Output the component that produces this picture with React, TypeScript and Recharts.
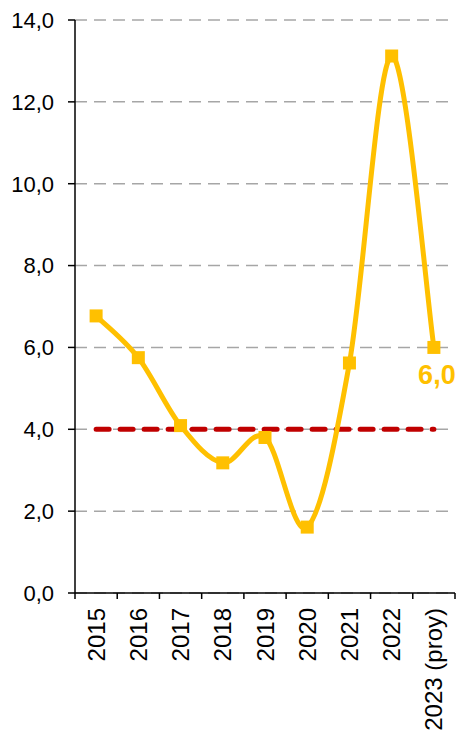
import { LineChart, Line, XAxis, YAxis, CartesianGrid, LabelList } from "recharts"

const years = ['2015', '2016', '2017', '2018', '2019', '2020', '2021', '2022', '2023 (proy)']
const inflation = [6.77, 5.75, 4.09, 3.18, 3.8, 1.61, 5.62, 13.12, 6.0]
const target = [4, 4, 4, 4, 4, 4, 4, 4, 4]
const yTicks = [0, 2, 4, 6, 8, 10, 12, 14]
const xBounds = [0, 1, 2, 3, 4, 5, 6, 7, 8, 9]

const data = years.map((year, i) => ({ x: i + 0.5, year, value: inflation[i], target: target[i] }))

const W = 460
const H = 731
const LEFT = 75
const RIGHT = 5
const FONT = '"Liberation Sans", Arial, sans-serif'
const halfBand = (W - LEFT - RIGHT) / years.length / 2

const fmt = (v: number) => v.toFixed(1).replace('.', ',')

// smoothing similar to the spreadsheet "smoothed line"
function smoothCurve(context: any) {
  let pts: number[][] = []
  return {
    areaStart() {},
    areaEnd() {},
    lineStart() { pts = [] },
    point(x: number, y: number) { pts.push([+x, +y]) },
    lineEnd() {
      const n = pts.length
      if (!n) return
      context.moveTo(pts[0][0], pts[0][1])
      const t = 1 / 6
      for (let i = 0; i < n - 1; i++) {
        const p0 = pts[i - 1] || pts[i]
        const p1 = pts[i]
        const p2 = pts[i + 1]
        const p3 = pts[i + 2] || p2
        context.bezierCurveTo(
          p1[0] + (p2[0] - p0[0]) * t, p1[1] + (p2[1] - p0[1]) * t,
          p2[0] - (p3[0] - p1[0]) * t, p2[1] - (p3[1] - p1[1]) * t,
          p2[0], p2[1]
        )
      }
    },
  }
}

const YearTick = (props: any) => {
  const { x, y, payload } = props
  const idx = payload.value
  if (idx >= years.length) return null
  const cx = x + halfBand + 8.5
  const cy = y + 7
  return (
    <text x={cx} y={cy} textAnchor="end" transform={`rotate(-90, ${cx}, ${cy})`}
      fontSize={24} fontFamily={FONT} fill="#000">
      {years[idx]}
    </text>
  )
}

const SquareDot = (props: any) => {
  const { cx, cy, index } = props
  if (cx == null || cy == null) return <g key={index} />
  return <rect key={index} x={cx - 6.5} y={cy - 6.5} width={13} height={13} fill="#FFC000" />
}

const LastLabel = (props: any) => {
  const { x, y, index, value } = props
  if (index !== inflation.length - 1) return null
  return (
    <text x={x + 3} y={y + 37} textAnchor="middle" fontSize={27} fontWeight="bold"
      fontFamily={FONT} fill="#FFC000">
      {fmt(value)}
    </text>
  )
}

function App() {
  return (
    <div style={{ position: 'absolute', left: 0, top: 0, background: '#fff' }}>
      <LineChart width={W} height={H} data={data} margin={{ top: 20, right: RIGHT, bottom: 0, left: 0 }}>
        <CartesianGrid vertical={false} stroke="#A6A6A6" strokeWidth={1.5} strokeDasharray="12 7" />
        <XAxis
          type="number"
          dataKey="x"
          domain={[0, 9]}
          ticks={xBounds}
          interval={0}
          height={138}
          tick={<YearTick />}
          tickSize={6}
          axisLine={{ stroke: '#000', strokeWidth: 1.5 }}
          tickLine={{ stroke: '#000', strokeWidth: 1.5 }}
        />
        <YAxis
          domain={[0, 14]}
          ticks={yTicks}
          width={LEFT}
          tickFormatter={fmt}
          tickSize={7}
          tickMargin={14}
          tick={{ fontSize: 22, fontFamily: FONT, fill: '#000' }}
          axisLine={{ stroke: '#000', strokeWidth: 1.5 }}
          tickLine={{ stroke: '#000', strokeWidth: 1.5 }}
        />
        <Line
          dataKey="target"
          stroke="#C00000"
          strokeWidth={5}
          strokeDasharray="13 11"
          strokeLinecap="round"
          dot={false}
          activeDot={false}
          isAnimationActive={false}
        />
        <Line
          dataKey="value"
          type={smoothCurve as any}
          stroke="#FFC000"
          strokeWidth={5}
          dot={<SquareDot />}
          activeDot={false}
          isAnimationActive={false}
        >
          <LabelList dataKey="value" content={<LastLabel />} />
        </Line>
      </LineChart>
    </div>
  )
}

export default App
